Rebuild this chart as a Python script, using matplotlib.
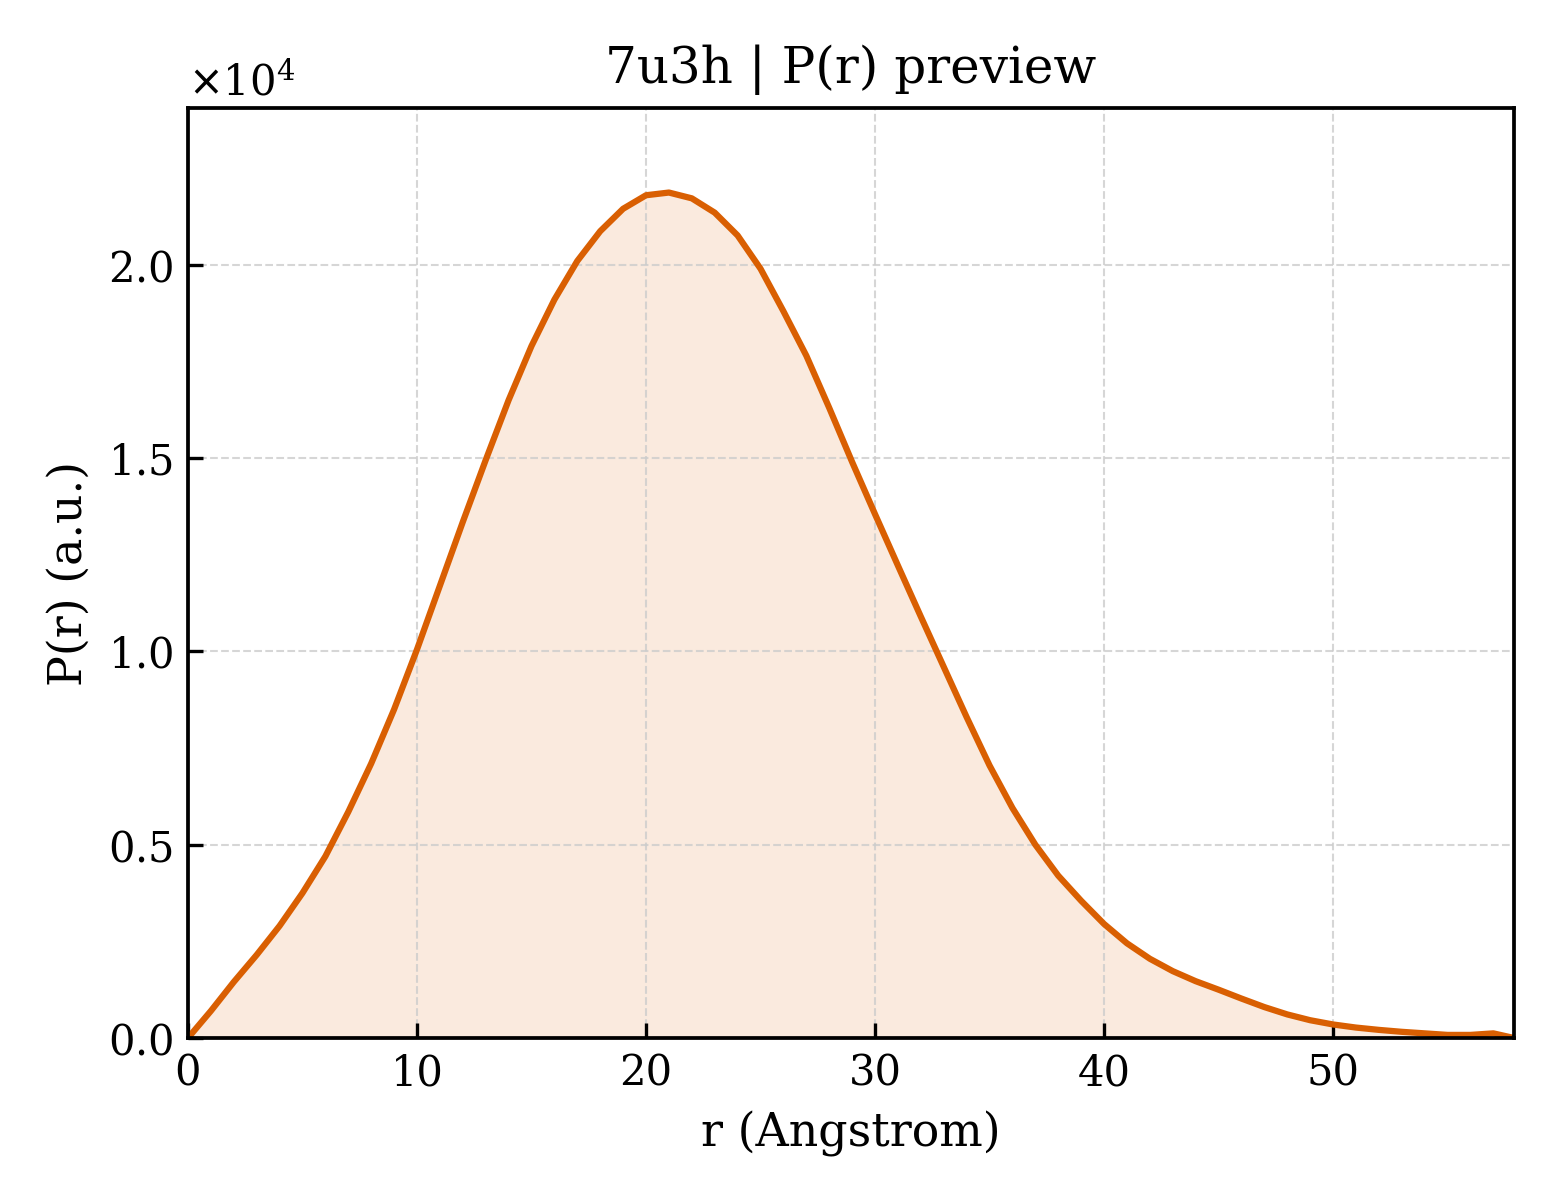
import numpy as np
import matplotlib
matplotlib.use("Agg")
import matplotlib.pyplot as plt
from matplotlib.ticker import ScalarFormatter

# P(r) (r in Angstrom, P in units of 1e4)
r = [0, 1, 2, 3, 4, 5, 6, 7, 8, 9,
     10, 11, 12, 13, 14, 15, 16, 17, 18, 19,
     20, 21, 22, 23, 24, 25, 26, 27, 28, 29,
     30, 31, 32, 33, 34, 35, 36, 37, 38, 39,
     40, 41, 42, 43, 44, 45, 46, 47, 48, 49,
     50, 51, 52, 53, 54, 55, 56, 57, 57.9]
pr_1e4 = [0.0, 0.07, 0.145, 0.215, 0.29, 0.375, 0.47, 0.585, 0.71, 0.85,
          1.005, 1.17, 1.335, 1.495, 1.65, 1.79, 1.91, 2.01, 2.087, 2.145,
          2.18, 2.187, 2.172, 2.135, 2.076, 1.99, 1.88, 1.765, 1.63, 1.49,
          1.355, 1.222, 1.09, 0.96, 0.83, 0.705, 0.595, 0.50, 0.42, 0.355,
          0.295, 0.245, 0.205, 0.173, 0.147, 0.125, 0.102, 0.08, 0.061, 0.046,
          0.035, 0.027, 0.021, 0.016, 0.012, 0.008, 0.008, 0.012, 0.0]

r = np.array(r)
pr = np.array(pr_1e4) * 1e4

plt.rcParams['font.family'] = 'DejaVu Serif'
plt.rcParams['font.size'] = 10

fig = plt.figure(figsize=(5.2, 4.0), dpi=300)
ax = fig.add_axes([0.1205, 0.135, 0.85, 0.775])

col = '#d95f02'
ax.fill_between(r, pr, 0, color=col, alpha=0.13, linewidth=0)
ax.plot(r, pr, color=col, lw=1.5)

ax.set_xlim(0, r.max())
ax.set_ylim(0, pr.max() * 1.1)
ax.set_xlabel('r (Angstrom)', fontsize=11)
ax.set_ylabel('P(r) (a.u.)', fontsize=11)
ax.set_title('7u3h | P(r) preview', fontsize=12)

fmt = ScalarFormatter(useMathText=True)
fmt.set_powerlimits((0, 0))
ax.yaxis.set_major_formatter(fmt)

ax.tick_params(direction='in', labelsize=10)
ax.grid(True, ls='--', lw=0.5, color='#cccccc', alpha=0.8)
for s in ax.spines.values():
    s.set_linewidth(0.9)

fig.savefig('out.png', dpi=300)
